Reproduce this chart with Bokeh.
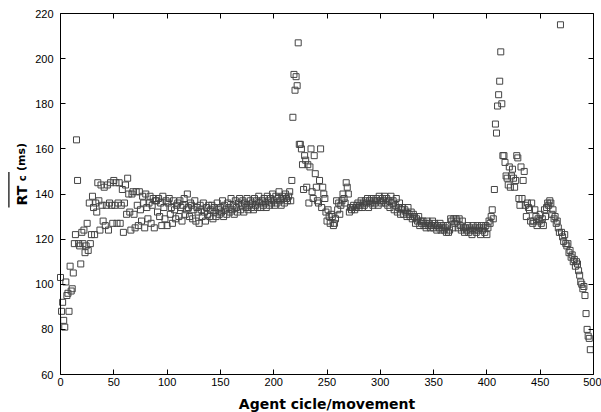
from bokeh.plotting import figure
from bokeh.models import Range1d, LinearAxis, FixedTicker, Label, Arrow
from bokeh.embed import file_html
from bokeh.resources import INLINE

# Mean reaction time per agent cycle (ms)
rt_c = [
    103, 88, 92, 84, 81, 101, 95, 96, 88, 108,
    97, 98, 105, 118, 122, 164, 146, 118, 117, 109,
    123, 118, 124, 114, 117, 127, 115, 136, 118, 122,
    139, 134, 122, 136, 132, 145, 137, 124, 144, 135,
    128, 143, 126, 135, 144, 124, 136, 145, 135, 127,
    146, 135, 145, 127, 136, 145, 127, 135, 142, 123,
    136, 144, 131, 147, 140, 132, 124, 140, 141, 131,
    125, 141, 135, 126, 141, 133, 128, 139, 136, 125,
    140, 134, 129, 136, 139, 127, 135, 138, 125, 137,
    137, 132, 138, 130, 136, 126, 139, 134, 129, 137,
    126, 136, 138, 131, 134, 127, 137, 133, 129, 135,
    136, 130, 137, 134, 128, 135, 138, 131, 133, 140,
    134, 130, 136, 135, 129, 133, 137, 128, 134, 132,
    127, 135, 133, 130, 136, 132, 128, 134, 131, 135,
    130, 133, 135, 129, 134, 132, 130, 136, 133, 131,
    134, 132, 137, 130, 135, 133, 131, 136, 134, 132,
    138, 133, 135, 131, 137, 134, 132, 136, 138, 133,
    135, 137, 132, 136, 134, 138, 133, 135, 137, 134,
    136, 133, 138, 135, 137, 134, 139, 136, 134, 137,
    135, 138, 136, 134, 139, 137, 135, 138, 136, 140,
    137, 135, 139, 136, 138, 141, 137, 135, 139, 138,
    136, 140, 138, 137, 139, 141, 137, 146, 174, 193,
    186, 192, 188, 207, 162, 162, 160, 153, 142, 157,
    155, 143, 153, 136, 152, 160, 141, 138, 157, 149,
    143, 137, 136, 146, 160, 134, 143, 140, 138, 132,
    128, 133, 130, 127, 131, 130, 126, 127, 129, 137,
    133, 136, 131, 135, 137, 140, 138, 136, 145, 143,
    140, 132, 134, 133, 134, 135, 133, 134, 135, 136,
    134, 135, 137, 134, 136, 135, 137, 136, 138, 134,
    137, 136, 138, 135, 137, 136, 138, 137, 135, 139,
    137, 136, 138, 137, 139, 136, 138, 135, 137, 134,
    139, 136, 137, 133, 135, 138, 132, 134, 136, 131,
    133, 134, 131, 133, 132, 130, 134, 131, 130, 132,
    129, 131, 130, 127, 129, 128, 130, 126, 128, 127,
    128, 126, 127, 125, 128, 126, 127, 125, 126, 128,
    125, 127, 126, 124, 126, 125, 127, 124, 125, 126,
    124, 125, 123, 126, 123, 124, 129, 128, 125, 129,
    127, 129, 128, 125, 129, 126, 124, 128, 125, 123,
    125, 124, 126, 123, 125, 124, 122, 126, 124, 125,
    123, 126, 124, 125, 122, 126, 124, 125, 123, 126,
    122, 125, 128, 127, 130, 133, 129, 142, 171, 167,
    179, 184, 190, 203, 180, 157, 157, 154, 148, 147,
    144, 152, 143, 148, 151, 147, 143, 146, 157, 156,
    138, 135, 152, 138, 146, 150, 135, 130, 136, 134,
    133, 128, 136, 127, 128, 133, 130, 126, 129, 128,
    131, 127, 129, 126, 133, 130, 134, 136, 135, 137,
    136, 131, 133, 129, 130, 127, 128, 125, 123, 215,
    123, 121, 119, 122, 118, 117, 118, 114, 115, 112,
    113, 110, 111, 108, 110, 109, 106, 104, 101, 100,
    98, 99, 95, 87, 80, 77, 76, 71,
]
cycle = list(range(len(rt_c)))

x_ticks = [0, 50, 100, 150, 200, 250, 300, 350, 400, 450, 500]
y_ticks = [60, 80, 100, 120, 140, 160, 180, 200, 220]
x_label = "Agent cicle/movement"

XMIN, XMAX, YMIN, YMAX = 0, 500, 60, 220

# The frame covers the whole canvas; the axes are pinned to the data box,
# so that titles and tick labels around it are never clipped.
sx = 533.0 / (XMAX - XMIN)   # px per x unit
sy = 361.0 / (YMAX - YMIN)   # px per y unit
p = figure(width=601, height=412, output_backend="svg", toolbar_location=None,
           x_range=Range1d(XMIN - 60 / sx, XMAX + 8 / sx),
           y_range=Range1d(YMIN - 38 / sy, YMAX + 13 / sy),
           min_border=0, x_axis_location=None, y_axis_location=None)
p.grid.visible = False
p.outline_line_color = None


def make_axis(ticks, show_labels, **kw):
    ax = LinearAxis(ticker=FixedTicker(ticks=ticks), **kw)
    ax.major_tick_in = 5
    ax.major_tick_out = 0
    ax.minor_tick_in = 0
    ax.minor_tick_out = 0
    ax.axis_line_color = "black"
    ax.axis_line_width = 1
    ax.major_tick_line_color = "black"
    ax.major_label_text_font = "Liberation Sans"
    if show_labels:
        ax.major_label_text_font_size = "11px"
        ax.major_label_text_color = "black"
    else:
        ax.major_label_text_font_size = "2px"
        ax.major_label_text_color = None
        ax.major_label_standoff = 0
    return ax


bottom = make_axis(x_ticks, True, fixed_location=YMIN, bounds=(XMIN, XMAX))
bottom.major_label_standoff = 3
p.add_layout(bottom, "below")

left = make_axis(y_ticks, True, fixed_location=XMIN, bounds=(YMIN, YMAX))
left.major_label_standoff = 7
p.add_layout(left, "left")

p.add_layout(make_axis(x_ticks, False, fixed_location=YMAX, bounds=(XMIN, XMAX)), "above")
p.add_layout(make_axis(y_ticks, False, fixed_location=XMAX, bounds=(YMIN, YMAX)), "right")

p.scatter(cycle, rt_c, marker="square", size=6, fill_color=None,
          line_color="#444444", line_width=1)

# x-axis title
p.add_layout(Label(x=(XMIN + XMAX) / 2, y=YMIN - 29.5 / sy, text=x_label,
                   text_font="DejaVu Sans", text_font_style="bold",
                   text_font_size="14px", text_color="black",
                   text_align="center", text_baseline="middle"))

# y-axis title: overline(RT_c) (ms)
lab_kw = dict(angle=1.5708, text_font="DejaVu Sans", text_font_style="bold",
              text_color="black", text_align="left", text_baseline="alphabetic")
p.add_layout(Label(x=-36.2, y=134.9, text="RT", text_font_size="14px", **lab_kw))
p.add_layout(Label(x=-35.4, y=145.6, text="c", text_font_size="10px", **lab_kw))
p.add_layout(Label(x=-36.2, y=150.2, text="(ms)", text_font_size="11px", **lab_kw))
p.add_layout(Arrow(start=None, end=None, x_start=-48.4, y_start=134.0, x_end=-48.4,
                   y_end=149.7, line_color="black", line_width=1.2))

open("out.html", "w").write(file_html(p, INLINE))
